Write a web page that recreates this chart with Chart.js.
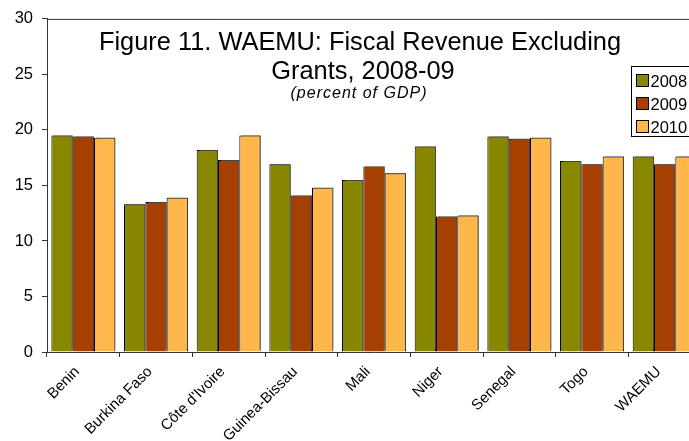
<!DOCTYPE html>
<html>
<head>
<meta charset="utf-8">
<script src="https://cdn.jsdelivr.net/npm/chart.js@4/dist/chart.umd.min.js"></script>
<style>
html,body{margin:0;padding:0;overflow:hidden;background:#fff;width:689px;height:441px;}
#wrap{width:720px;height:441px;}
</style>
</head>
<body>
<div id="wrap"><canvas id="c" width="720" height="441"></canvas></div>
<script>
const categories = ["Benin","Burkina Faso","Côte d'Ivoire","Guinea-Bissau","Mali","Niger","Senegal","Togo","WAEMU"];
const seriesNames = ["2008","2009","2010"];
const values2008 = [19.5, 13.3, 18.2, 16.9, 15.5, 18.5, 19.4, 17.2, 17.6];
const values2009 = [19.4, 13.5, 17.3, 14.1, 16.7, 12.2, 19.2, 16.9, 16.9];
const values2010 = [19.3, 13.9, 19.5, 14.8, 16.1, 12.3, 19.3, 17.6, 17.6];
const yTicks = [0, 5, 10, 15, 20, 25, 30];
const titleLines = ["Figure 11. WAEMU: Fiscal Revenue Excluding", "Grants, 2008-09"];
const subtitle = "(percent of GDP)";
const colors = ["#878700", "#A64000", "#FFB64A"];

const FONT = "'Liberation Sans', Arial, sans-serif";

const shadowPlugin = {
  id: 'shadow',
  beforeDatasetsDraw(chart) {
    const ctx = chart.ctx;
    ctx.save();
    ctx.shadowColor = 'rgba(80,80,80,0.85)';
    ctx.shadowOffsetX = 2;
    ctx.shadowOffsetY = -2;
    ctx.shadowBlur = 0;
  },
  afterDatasetsDraw(chart) {
    chart.ctx.restore();
  }
};

const decorPlugin = {
  id: 'decor',
  afterDraw(chart) {
    const ctx = chart.ctx;
    const a = chart.chartArea;
    ctx.save();
    ctx.strokeStyle = '#333';
    ctx.lineWidth = 1;
    ctx.beginPath();
    ctx.moveTo(a.left, a.top + 0.5);
    ctx.lineTo(a.right, a.top + 0.5);
    ctx.moveTo(a.right - 0.5, a.top);
    ctx.lineTo(a.right - 0.5, a.bottom);
    ctx.stroke();
    ctx.fillStyle = '#000';
    ctx.textAlign = 'center';
    ctx.textBaseline = 'alphabetic';
    ctx.font = "25.4px " + FONT;
    ctx.fillText(titleLines[0], 360, 49.5);
    ctx.fillText(titleLines[1], 363, 78.5);
    ctx.font = "italic 16px " + FONT;
    try { ctx.letterSpacing = '1px'; } catch(e) {}
    ctx.fillText(subtitle, 359, 98);
    try { ctx.letterSpacing = '0px'; } catch(e) {}
    ctx.fillStyle = '#fff';
    ctx.fillRect(631.5, 66.5, 70, 70);
    ctx.strokeStyle = '#000';
    ctx.strokeRect(631.5, 66.5, 70, 70);
    ctx.textAlign = 'left';
    ctx.font = "16.5px " + FONT;
    chart.data.datasets.forEach((ds, i) => {
      const y = 74.5 + i * 23;
      ctx.fillStyle = ds.backgroundColor;
      ctx.fillRect(636.5, y, 12, 12);
      ctx.strokeStyle = '#000';
      ctx.strokeRect(636.5, y, 12, 12);
      ctx.fillStyle = '#000';
      ctx.fillText(ds.label, 650.5, y + 12);
    });
    ctx.restore();
  }
};

new Chart(document.getElementById('c'), {
  type: 'bar',
  data: {
    labels: categories,
    datasets: [values2008, values2009, values2010].map((v, i) => ({
      label: seriesNames[i],
      data: v,
      backgroundColor: colors[i],
      borderColor: '#000',
      borderWidth: 1,
      borderSkipped: 'bottom',
      categoryPercentage: 0.88,
      barPercentage: 1.0
    }))
  },
  options: {
    responsive: false,
    animation: false,
    devicePixelRatio: 1,
    layout: { padding: { top: 17, right: 19, left: 0, bottom: 0 } },
    plugins: { legend: { display: false }, title: { display: false }, tooltip: { enabled: false } },
    scales: {
      x: {
        offset: true,
        grid: { offset: true, drawOnChartArea: false, drawTicks: true, tickLength: 5, color: '#333' },
        border: { color: '#333', width: 1 },
        ticks: {
          color: '#000',
          font: { family: FONT, size: 15 },
          minRotation: 45, maxRotation: 45,
          autoSkip: false,
          padding: 6,
          labelOffset: -6
        },
        afterFit(scale) { scale.height = 89; }
      },
      y: {
        min: 0, max: 30,
        afterBuildTicks(scale) { scale.ticks = yTicks.map(v => ({ value: v })); },
        grid: { drawOnChartArea: false, drawTicks: true, tickLength: 5, color: '#333' },
        border: { color: '#333', width: 1 },
        ticks: {
          color: '#000',
          font: { family: FONT, size: 16.5 },
          padding: 9
        },
        afterFit(scale) { scale.width = 47; }
      }
    }
  },
  plugins: [shadowPlugin, decorPlugin]
});
</script>
</body>
</html>
